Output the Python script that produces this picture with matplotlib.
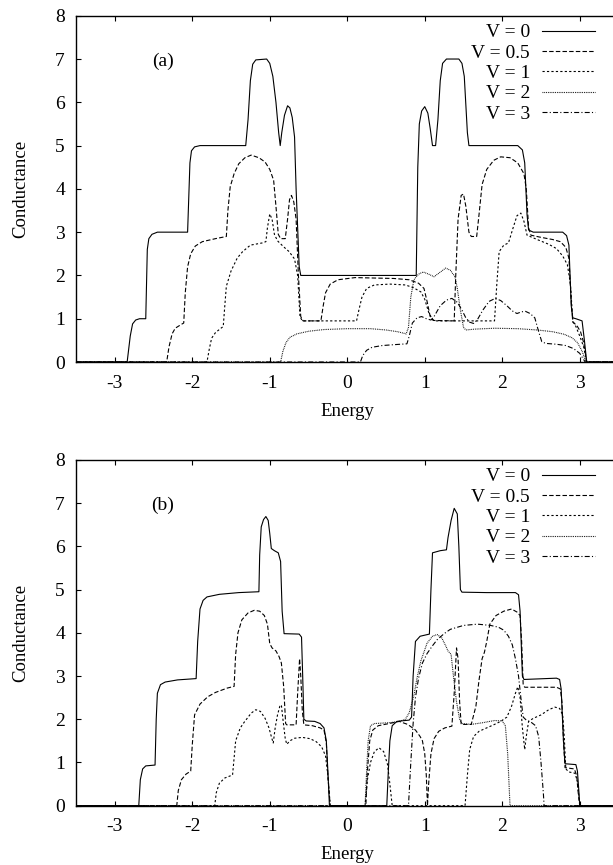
import numpy as np
import matplotlib
matplotlib.use("Agg")
import matplotlib.pyplot as plt

plt.rcParams['font.family'] = ['Liberation Serif', 'DejaVu Serif']
plt.rcParams['axes.unicode_minus'] = False
plt.rcParams['lines.scale_dashes'] = False

# conductance curves, (energy, conductance) pairs
# panel (a)
a_v0 = [(-3.5, 0), (-2.84, 0), (-2.80, 0.6), (-2.77, 0.88), (-2.73, 0.97), (-2.68, 1.0),
        (-2.60, 1.0), (-2.58, 2.6), (-2.56, 2.85), (-2.52, 2.95), (-2.45, 3.0), (-2.06, 3.0),
        (-2.03, 4.6), (-2.01, 4.88), (-1.97, 4.97), (-1.90, 5.0), (-1.31, 5.0), (-1.28, 5.6),
        (-1.25, 6.5), (-1.22, 6.88), (-1.18, 6.98), (-1.04, 7.0), (-1.00, 6.9), (-0.96, 6.6),
        (-0.92, 6.0), (-0.885, 5.3), (-0.865, 5.0), (-0.845, 5.3), (-0.81, 5.7), (-0.77, 5.92),
        (-0.74, 5.87), (-0.71, 5.65), (-0.68, 5.2), (-0.66, 4.0), (-0.62, 2.2), (-0.60, 2.0),
        (0.89, 2.0), (0.91, 4.5), (0.93, 5.5), (0.96, 5.8), (1.00, 5.9), (1.04, 5.75),
        (1.07, 5.4), (1.10, 5.0), (1.14, 5.0), (1.17, 5.6), (1.20, 6.5), (1.23, 6.9),
        (1.28, 7.0), (1.44, 7.0), (1.48, 6.9), (1.51, 6.6), (1.55, 5.3), (1.57, 5.0),
        (2.20, 5.0), (2.26, 4.9), (2.29, 4.6), (2.32, 3.4), (2.34, 3.05), (2.40, 3.0),
        (2.78, 3.0), (2.83, 2.92), (2.86, 2.7), (2.89, 1.3), (2.91, 1.02), (2.95, 1.0),
        (3.03, 0.95), (3.06, 0.5), (3.09, 0), (3.5, 0)]
a_v05 = [(-3.5, 0), (-2.33, 0), (-2.30, 0.35), (-2.26, 0.65), (-2.22, 0.78), (-2.14, 0.87),
         (-2.11, 0.9), (-2.09, 1.6), (-2.06, 2.2), (-2.02, 2.5), (-1.96, 2.68), (-1.87, 2.78),
         (-1.70, 2.85), (-1.56, 2.9), (-1.54, 3.5), (-1.51, 4.05), (-1.46, 4.35), (-1.40, 4.58),
         (-1.32, 4.72), (-1.24, 4.78), (-1.14, 4.72), (-1.06, 4.62), (-1.00, 4.45), (-0.95, 4.2),
         (-0.92, 3.6), (-0.89, 2.95), (-0.86, 2.85), (-0.80, 2.85), (-0.77, 3.3), (-0.745, 3.75),
         (-0.72, 3.85), (-0.69, 3.7), (-0.66, 3.3), (-0.63, 2.0), (-0.60, 1.05), (-0.57, 0.95),
         (-0.34, 0.95), (-0.31, 1.3), (-0.28, 1.6), (-0.22, 1.8), (-0.12, 1.9), (0.10, 1.95),
         (0.60, 1.93), (0.80, 1.9), (0.92, 1.82), (0.99, 1.7), (1.03, 1.4), (1.07, 1.05),
         (1.11, 0.96), (1.38, 0.95), (1.40, 2.0), (1.43, 3.3), (1.47, 3.85), (1.50, 3.88),
         (1.53, 3.6), (1.57, 3.0), (1.60, 2.9), (1.67, 2.9), (1.70, 3.4), (1.74, 4.1),
         (1.80, 4.45), (1.89, 4.66), (1.98, 4.74), (2.10, 4.72), (2.20, 4.6), (2.28, 4.35),
         (2.31, 4.0), (2.34, 3.1), (2.37, 2.93), (2.50, 2.88), (2.65, 2.83), (2.75, 2.78),
         (2.82, 2.65), (2.86, 2.4), (2.89, 1.4), (2.91, 0.92), (2.96, 0.85), (3.01, 0.7),
         (3.05, 0.45), (3.09, 0), (3.5, 0)]
a_v1 = [(-3.5, 0), (-1.81, 0), (-1.78, 0.3), (-1.75, 0.55), (-1.70, 0.68), (-1.63, 0.78),
        (-1.60, 0.82), (-1.58, 1.3), (-1.56, 1.75), (-1.50, 2.1), (-1.42, 2.4), (-1.35, 2.55),
        (-1.25, 2.7), (-1.10, 2.75), (-1.05, 2.78), (-1.03, 3.1), (-1.00, 3.42), (-0.97, 3.3),
        (-0.94, 2.95), (-0.90, 2.8), (-0.82, 2.66), (-0.75, 2.55), (-0.68, 2.38), (-0.64, 2.0),
        (-0.61, 1.05), (-0.58, 0.95), (0.12, 0.95), (0.15, 1.2), (0.19, 1.5), (0.25, 1.7),
        (0.35, 1.78), (0.55, 1.8), (0.75, 1.78), (0.85, 1.72), (0.95, 1.62), (1.00, 1.45),
        (1.05, 1.15), (1.10, 0.98), (1.15, 0.95), (1.90, 0.95), (1.93, 1.8), (1.96, 2.55),
        (2.02, 2.7), (2.08, 2.75), (2.14, 3.1), (2.19, 3.38), (2.24, 3.44), (2.28, 3.25),
        (2.32, 2.93), (2.45, 2.83), (2.60, 2.72), (2.70, 2.62), (2.78, 2.45), (2.84, 2.25),
        (2.88, 1.8), (2.91, 0.95), (2.95, 0.82), (3.00, 0.6), (3.05, 0.35), (3.09, 0), (3.5, 0)]
a_v2 = [(-3.5, 0), (-0.86, 0), (-0.83, 0.25), (-0.79, 0.45), (-0.74, 0.57), (-0.65, 0.65),
        (-0.50, 0.71), (-0.30, 0.75), (0.0, 0.77), (0.30, 0.77), (0.50, 0.74), (0.65, 0.70),
        (0.76, 0.65), (0.79, 0.8), (0.82, 1.5), (0.86, 1.9), (0.92, 2.03), (0.98, 2.08),
        (1.05, 2.03), (1.12, 1.97), (1.18, 2.05), (1.27, 2.17), (1.33, 2.12), (1.39, 1.97),
        (1.42, 1.7), (1.46, 1.2), (1.50, 0.8), (1.53, 0.74), (1.65, 0.76), (1.90, 0.78),
        (2.20, 0.77), (2.45, 0.74), (2.65, 0.70), (2.80, 0.64), (2.90, 0.56), (2.97, 0.45),
        (3.03, 0.25), (3.08, 0), (3.5, 0)]
a_v3 = [(-3.5, 0), (0.17, 0), (0.20, 0.15), (0.25, 0.27), (0.32, 0.34), (0.45, 0.38),
        (0.60, 0.40), (0.77, 0.42), (0.80, 0.6), (0.84, 0.9), (0.90, 1.02), (0.96, 1.05),
        (1.02, 1.0), (1.08, 0.97), (1.12, 1.05), (1.20, 1.3), (1.28, 1.43), (1.35, 1.47),
        (1.42, 1.38), (1.48, 1.2), (1.53, 1.02), (1.58, 0.92), (1.63, 0.89), (1.68, 0.98),
        (1.75, 1.2), (1.83, 1.4), (1.91, 1.47), (1.98, 1.42), (2.06, 1.3), (2.13, 1.18),
        (2.19, 1.12), (2.25, 1.16), (2.30, 1.17), (2.36, 1.12), (2.42, 1.02), (2.47, 0.7),
        (2.51, 0.47), (2.56, 0.43), (2.70, 0.41), (2.82, 0.38), (2.92, 0.31), (3.00, 0.2),
        (3.07, 0), (3.5, 0)]

# panel (b)
b_v0 = [(-3.5, 0), (-2.69, 0), (-2.67, 0.6), (-2.64, 0.85), (-2.60, 0.92), (-2.48, 0.94),
        (-2.465, 2.0), (-2.45, 2.6), (-2.41, 2.8), (-2.35, 2.86), (-2.19, 2.91), (-1.95, 2.94),
        (-1.93, 3.8), (-1.90, 4.55), (-1.86, 4.75), (-1.81, 4.83), (-1.65, 4.89), (-1.40, 4.93),
        (-1.14, 4.95), (-1.13, 5.8), (-1.11, 6.45), (-1.08, 6.62), (-1.05, 6.69), (-1.02, 6.6),
        (-1.00, 6.3), (-0.98, 5.95), (-0.94, 5.9), (-0.89, 5.85), (-0.86, 5.65), (-0.84, 4.5),
        (-0.815, 3.98), (-0.62, 3.97), (-0.59, 3.9), (-0.575, 3.0), (-0.56, 2.0), (-0.53, 1.96),
        (-0.42, 1.95), (-0.35, 1.9), (-0.30, 1.8), (-0.27, 1.5), (-0.25, 0.8), (-0.23, 0),
        (0.51, 0), (0.53, 0.8), (0.55, 1.5), (0.58, 1.85), (0.64, 1.95), (0.80, 1.98),
        (0.83, 2.05), (0.85, 3.0), (0.88, 3.8), (0.94, 3.92), (1.06, 3.97), (1.08, 5.0),
        (1.10, 5.85), (1.20, 5.9), (1.28, 5.92), (1.30, 6.2), (1.34, 6.6), (1.38, 6.88),
        (1.42, 6.75), (1.44, 6.0), (1.46, 5.0), (1.48, 4.94), (1.80, 4.93), (2.17, 4.93),
        (2.21, 4.88), (2.23, 4.5), (2.26, 3.0), (2.28, 2.92), (2.70, 2.95), (2.74, 2.92),
        (2.76, 2.7), (2.79, 1.5), (2.81, 0.97), (2.95, 0.95), (2.97, 0.8), (2.99, 0.3),
        (3.00, 0), (3.5, 0)]
b_v05 = [(-3.5, 0), (-2.20, 0), (-2.18, 0.35), (-2.14, 0.6), (-2.08, 0.73), (-2.02, 0.8),
         (-2.00, 1.4), (-1.97, 2.1), (-1.90, 2.35), (-1.80, 2.52), (-1.70, 2.62), (-1.55, 2.72),
         (-1.46, 2.76), (-1.44, 3.5), (-1.41, 4.0), (-1.36, 4.3), (-1.28, 4.46), (-1.20, 4.52),
         (-1.13, 4.5), (-1.07, 4.4), (-1.03, 4.2), (-1.00, 3.75), (-0.97, 3.65), (-0.92, 3.58),
         (-0.88, 3.45), (-0.85, 3.3), (-0.82, 2.75), (-0.795, 1.9), (-0.78, 1.87), (-0.66, 1.87),
         (-0.64, 2.6), (-0.615, 3.4), (-0.60, 3.0), (-0.58, 2.2), (-0.56, 1.87), (-0.45, 1.85),
         (-0.35, 1.8), (-0.30, 1.75), (-0.27, 1.45), (-0.25, 0.7), (-0.22, 0),
         (0.24, 0), (0.26, 0.8), (0.29, 1.5), (0.33, 1.75), (0.40, 1.85), (0.54, 1.9),
         (0.67, 1.95), (0.78, 1.88), (0.88, 1.75), (0.94, 1.6), (0.97, 1.5), (1.00, 1.2),
         (1.02, 0.7), (1.035, 0), (1.05, 0.5), (1.08, 1.2), (1.12, 1.55), (1.18, 1.72),
         (1.26, 1.8), (1.35, 1.84), (1.38, 2.6), (1.41, 3.65), (1.43, 3.4), (1.45, 2.4),
         (1.47, 1.88), (1.60, 1.88), (1.66, 2.3), (1.70, 2.9), (1.74, 3.4), (1.77, 3.55),
         (1.80, 3.8), (1.84, 4.2), (1.92, 4.4), (2.02, 4.5), (2.12, 4.55), (2.19, 4.48),
         (2.23, 4.4), (2.25, 3.8), (2.27, 2.8), (2.29, 2.74), (2.70, 2.74), (2.75, 2.7),
         (2.77, 2.4), (2.79, 1.5), (2.81, 0.88), (2.93, 0.85), (2.96, 0.7), (2.98, 0.3),
         (3.00, 0), (3.5, 0)]
b_v1 = [(-3.5, 0), (-1.71, 0), (-1.69, 0.3), (-1.65, 0.52), (-1.58, 0.64), (-1.48, 0.71),
        (-1.46, 1.1), (-1.44, 1.5), (-1.38, 1.8), (-1.33, 1.93), (-1.24, 2.14), (-1.18, 2.22),
        (-1.12, 2.18), (-1.06, 2.02), (-1.01, 1.8), (-0.98, 1.6), (-0.955, 1.45), (-0.93, 1.8),
        (-0.90, 2.1), (-0.87, 2.3), (-0.85, 2.33), (-0.83, 2.0), (-0.80, 1.55), (-0.78, 1.42),
        (-0.74, 1.5), (-0.68, 1.56), (-0.58, 1.58), (-0.48, 1.55), (-0.40, 1.48), (-0.33, 1.36),
        (-0.28, 1.15), (-0.25, 0.7), (-0.22, 0),
        (0.23, 0), (0.26, 0.6), (0.30, 1.0), (0.35, 1.25), (0.41, 1.34), (0.47, 1.25),
        (0.52, 0.95), (0.55, 0.5), (0.58, 0),
        (1.52, 0), (1.55, 0.7), (1.58, 1.3), (1.63, 1.6), (1.70, 1.72), (1.80, 1.8),
        (1.90, 1.88), (1.98, 1.95), (2.06, 2.05), (2.12, 2.3), (2.17, 2.6), (2.20, 2.75),
        (2.23, 2.5), (2.26, 1.8), (2.29, 1.3), (2.31, 1.6), (2.34, 1.95), (2.40, 2.02),
        (2.50, 2.1), (2.60, 2.22), (2.68, 2.28), (2.74, 2.25), (2.78, 2.1), (2.80, 1.6),
        (2.82, 0.85), (2.86, 0.78), (2.94, 0.75), (2.97, 0.55), (2.99, 0.2), (3.00, 0), (3.5, 0)]
b_v2 = [(-3.5, 0), (0.23, 0), (0.25, 0.8), (0.27, 1.5), (0.30, 1.85), (0.35, 1.9),
        (0.55, 1.92), (0.67, 1.95), (0.75, 2.0), (0.80, 2.15), (0.86, 2.55), (0.90, 2.95),
        (0.95, 3.35), (1.03, 3.76), (1.10, 3.92), (1.16, 3.96), (1.22, 3.88), (1.27, 3.7),
        (1.30, 3.58), (1.34, 3.5), (1.37, 3.0), (1.41, 2.4), (1.45, 2.0), (1.48, 1.9),
        (1.60, 1.88), (1.75, 1.92), (1.90, 1.97), (2.00, 1.96), (2.04, 1.85), (2.07, 1.2),
        (2.10, 0), (3.5, 0)]
b_v3 = [(-3.5, 0), (0.79, 0), (0.82, 1.0), (0.85, 1.9), (0.88, 2.5), (0.92, 2.95),
        (0.97, 3.3), (1.03, 3.52), (1.10, 3.7), (1.16, 3.84), (1.25, 3.98), (1.33, 4.08),
        (1.50, 4.17), (1.68, 4.2), (1.85, 4.17), (1.95, 4.13), (2.02, 4.06), (2.08, 3.92),
        (2.13, 3.72), (2.17, 3.4), (2.21, 3.0), (2.24, 2.5), (2.27, 2.05), (2.31, 1.98),
        (2.38, 1.92), (2.43, 1.85), (2.47, 1.6), (2.50, 1.0), (2.53, 0.3), (2.54, 0), (3.5, 0)]

labels = ["V = 0", "V = 0.5", "V = 1", "V = 2", "V = 3"]
styles = ["-", (0, (3.2, 1.6)), (0, (1.6, 1.6)), (0, (0.6, 0.7)), (0, (3.6, 1.6, 0.8, 1.6))]
panels = [("(a)", [a_v0, a_v05, a_v1, a_v2, a_v3]),
          ("(b)", [b_v0, b_v05, b_v1, b_v2, b_v3])]

fig = plt.figure(figsize=(6.13, 8.65), dpi=100)
positions = [[76 / 613, 0.5815, 542.5 / 613, 0.4003],
             [76 / 613, 0.0686, 542.5 / 613, 0.3997]]

for pos, (tag, curves) in zip(positions, panels):
    ax = fig.add_axes(pos)
    for curve, lab, ls in zip(curves, labels, styles):
        e, g = np.array(curve).T
        ax.plot(e, g, color='black', lw=0.8, linestyle=ls, label=lab)
    ax.set_xlim(-3.5, 3.5)
    ax.set_ylim(0, 8)
    ax.set_xticks(np.arange(-3, 4))
    ax.set_yticks(np.arange(0, 9))
    ax.tick_params(direction='in', length=3.6, width=0.8, top=True, right=True, labelsize=14)
    ax.tick_params(axis='x', pad=9)
    ax.tick_params(axis='y', pad=8)
    for s in ax.spines.values():
        s.set_linewidth(1.0)
    ax.set_xlabel("Energy", fontsize=13.5)
    ax.set_ylabel("Conductance", fontsize=13.5)
    ax.xaxis.set_label_coords(0.5, -0.117)
    ax.yaxis.set_label_coords(-0.086, 0.5)
    ax.text(0.16, 0.868, tag, transform=ax.transAxes, fontsize=14, ha='center', va='center')
    ax.legend(loc='upper right', bbox_to_anchor=(0.957, 0.977), frameon=False,
              markerfirst=False, fontsize=14, handlelength=2.75, handletextpad=0.6,
              labelspacing=0.14, borderpad=0, borderaxespad=0)

fig.savefig("out.png", dpi=100)
